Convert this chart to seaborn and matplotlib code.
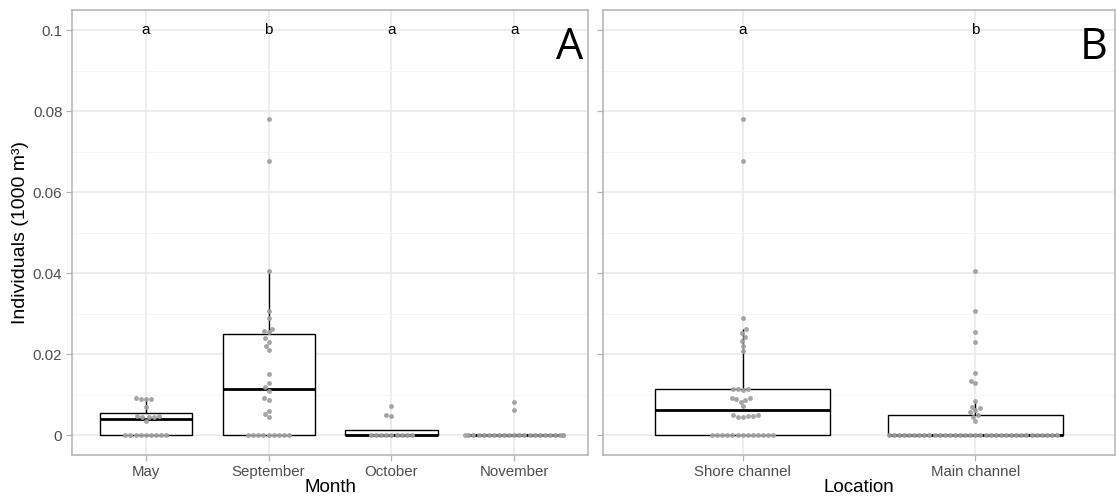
import numpy as np
import pandas as pd
import matplotlib
matplotlib.use("Agg")
import matplotlib.pyplot as plt
import seaborn as sns

# ---------------- data ----------------
months = ["May", "September", "October", "November"]
may_vals = [0]*9 + [0.0035, 0.0044, 0.0045, 0.0046, 0.0047, 0.0048, 0.007,
                    0.0089, 0.009, 0.009, 0.0091]
sep_vals = [0]*9 + [0.0045, 0.0053, 0.006, 0.0086, 0.0091, 0.011, 0.0119,
                    0.0128, 0.0152, 0.021, 0.022, 0.023, 0.0239, 0.0255,
                    0.0258, 0.0263, 0.029, 0.0306, 0.0405, 0.0677, 0.078]
oct_vals = [0]*9 + [0.0048, 0.0049, 0.0072]
nov_vals = [0]*22 + [0.0062, 0.0083]

locations = ["Shore channel", "Main channel"]
shore_vals = [0]*13 + [0.0044, 0.0046, 0.0047, 0.0048, 0.0049, 0.005,
                       0.0072, 0.0083, 0.0088, 0.009, 0.0092, 0.0093,
                       0.0112, 0.0113, 0.0114, 0.0115,
                       0.0208, 0.0221, 0.0233, 0.0243, 0.0253, 0.0261,
                       0.029, 0.0677, 0.078]
main_vals = [0]*34 + [0.0035, 0.0046, 0.0049, 0.0056, 0.0061, 0.0066, 0.007,
                      0.0085, 0.0128, 0.0133, 0.0154, 0.0229, 0.0254,
                      0.0306, 0.0405]

month_letters = ["a", "b", "a", "a"]
location_letters = ["a", "b"]
y_ticks = [0, 0.02, 0.04, 0.06, 0.08, 0.1]
y_ticklabels = ["0", "0.02", "0.04", "0.06", "0.08", "0.1"]

df_month = pd.DataFrame({
    "Month": sum([[m]*len(v) for m, v in zip(months, [may_vals, sep_vals, oct_vals, nov_vals])], []),
    "val": may_vals + sep_vals + oct_vals + nov_vals,
})
df_loc = pd.DataFrame({
    "Location": sum([[l]*len(v) for l, v in zip(locations, [shore_vals, main_vals])], []),
    "val": shore_vals + main_vals,
})

# ---------------- style ----------------
sns.set_theme(style="white")
plt.rcParams["font.family"] = ["Liberation Sans", "DejaVu Sans"]

W, H = 1116, 499
fig = plt.figure(figsize=(W/100, H/100), dpi=100)

def px_axes(l, r, t, b):
    return fig.add_axes([l/W, 1 - b/H, (r-l)/W, (b-t)/H])

axA = px_axes(72, 588, 10, 455)
axB = px_axes(603, 1115, 10, 455)

grid_major = "#e8e8e8"
grid_minor = "#f4f4f4"
border = "#b3b3b3"
tickcol = "#4d4d4d"

def style_axis(ax, ncat):
    ax.set_xlim(-0.6, ncat - 1 + 0.6)
    ax.set_ylim(-0.0049, 0.105)
    ax.set_yticks(y_ticks)
    ax.set_yticks([0.01, 0.03, 0.05, 0.07, 0.09], minor=True)
    ax.grid(True, which="major", axis="both", color=grid_major, lw=1.1, zorder=0)
    ax.grid(True, which="minor", axis="y", color=grid_minor, lw=0.6, zorder=0)
    ax.set_axisbelow(True)
    for s in ax.spines.values():
        s.set_color(border)
        s.set_linewidth(1.1)
    ax.tick_params(axis="both", which="major", length=4, width=0.9, color=border,
                   labelcolor=tickcol, labelsize=10.8, pad=3, left=True, bottom=True)
    ax.tick_params(axis="y", which="minor", length=0)

box_kw = dict(width=0.75, fliersize=0, showfliers=False, color="white",
              linecolor="black", linewidth=1.0,
              medianprops=dict(color="black", linewidth=2.0),
              whiskerprops=dict(color="black", linewidth=1.0),
              capprops=dict(linewidth=0))
swarm_kw = dict(color="#a0a0a0", size=3.5, alpha=0.95, linewidth=0, zorder=3)

# Panel A
sns.boxplot(data=df_month, x="Month", y="val", order=months, ax=axA, **box_kw)
sns.swarmplot(data=df_month, x="Month", y="val", order=months, ax=axA, **swarm_kw)
style_axis(axA, len(months))
axA.set_yticklabels(y_ticklabels)
axA.set_xlabel("Month", fontsize=13.5, color="black", labelpad=0)
axA.set_ylabel("Individuals (1000 m³)", fontsize=14, color="black", labelpad=3)
for i, lt in enumerate(month_letters):
    axA.text(i, 0.1, lt, ha="center", va="center", fontsize=11, color="black")
axA.text(0.99, 0.965, "A", transform=axA.transAxes, ha="right", va="top",
         fontsize=31, family=["Open Sans", "DejaVu Sans"], color="black")

# Panel B
sns.boxplot(data=df_loc, x="Location", y="val", order=locations, ax=axB, **box_kw)
sns.swarmplot(data=df_loc, x="Location", y="val", order=locations, ax=axB, **swarm_kw)
style_axis(axB, len(locations))
axB.set_yticklabels([])
axB.set_xlabel("Location", fontsize=13.5, color="black", labelpad=0)
axB.set_ylabel("")
for i, lt in enumerate(location_letters):
    axB.text(i, 0.1, lt, ha="center", va="center", fontsize=11, color="black")
axB.text(0.985, 0.965, "B", transform=axB.transAxes, ha="right", va="top",
         fontsize=31, family=["Open Sans", "DejaVu Sans"], color="black")

fig.savefig("out.png", dpi=100, facecolor="white")
